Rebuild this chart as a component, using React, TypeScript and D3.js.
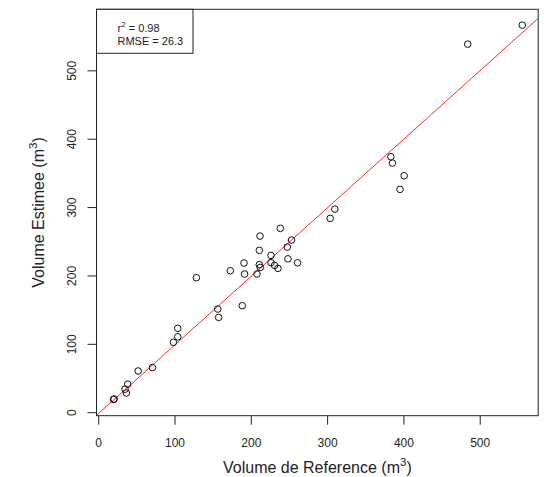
import React from "react";
import * as d3 from "d3";

const refVolume = [19.5, 20.2, 34.5, 38.1, 36.2, 51.7, 70.4, 97.9, 103.6, 103.6, 128.0, 156.0, 157.2, 172.5, 188.2, 190.4, 191.2, 207.4, 210.5, 211.4, 210.5, 211.8, 225.8, 225.8, 230.5, 234.9, 238.0, 247.1, 252.7, 248.0, 260.6, 303.4, 309.5, 382.9, 385.0, 400.3, 394.9, 483.6, 555.1];
const estVolume = [19.3, 20.0, 34.4, 41.8, 28.8, 61.0, 66.0, 102.9, 111.0, 123.4, 197.4, 151.6, 139.4, 207.6, 156.5, 218.9, 202.8, 202.8, 237.4, 258.3, 216.5, 212.5, 230.0, 219.5, 215.5, 211.0, 269.6, 242.2, 252.5, 225.0, 219.2, 284.2, 297.8, 374.3, 365.0, 346.5, 326.6, 539.0, 566.8];
const xTicks = [0, 100, 200, 300, 400, 500];
const yTicks = [0, 100, 200, 300, 400, 500];
const xDomain = [-2.9, 576];
const yDomain = [-4.4, 590];
const fitIntercept = -1;
const fitSlope = 1.003;
const r2Label = "0.98";
const rmseLabel = "26.3";

const W = 544;
const H = 477;
const L = 96.5, R = 538.2, T = 9.3, B = 415.7;
const FONT = "'Liberation Sans', Arial, Helvetica, sans-serif";
const INK = "#222";

export default function App() {
  const x = d3.scaleLinear().domain(xDomain).range([L, R]);
  const y = d3.scaleLinear().domain(yDomain).range([B, T]);
  const lineGen = d3.line<number>().x((v) => x(v)).y((v) => y(fitIntercept + fitSlope * v));
  const lineXs = [xDomain[0], xDomain[1]];
  const points = refVolume.map((v, i) => [v, estVolume[i]]);

  return (
    <svg width={W} height={H} style={{ position: "absolute", left: 0, top: 0, background: "#fff" }} fontFamily={FONT}>
      <rect x={0} y={0} width={W} height={H} fill="#fff" />
      <defs>
        <clipPath id="plotClip">
          <rect x={L} y={T} width={R - L} height={B - T} />
        </clipPath>
      </defs>
      <path d={lineGen(lineXs) || ""} stroke="#ff0000" strokeWidth={1} fill="none" clipPath="url(#plotClip)" opacity={0.85} />
      {points.map(([a, b], i) => (
        <circle key={i} cx={x(a)} cy={y(b)} r={3.3} fill="none" stroke="#111" strokeWidth={1} />
      ))}
      <rect x={L} y={T} width={R - L} height={B - T} fill="none" stroke={INK} strokeWidth={1} />
      {/* x axis */}
      {xTicks.map((t) => (
        <g key={"x" + t}>
          <line x1={x(t)} x2={x(t)} y1={B} y2={B + 9} stroke={INK} strokeWidth={1} />
          <text x={x(t)} y={446.5} textAnchor="middle" fontSize={12} fill={INK}>{t}</text>
        </g>
      ))}
      {/* y axis */}
      {yTicks.map((t) => (
        <g key={"y" + t}>
          <line x1={L - 9} x2={L} y1={y(t)} y2={y(t)} stroke={INK} strokeWidth={1} />
          <text transform={`translate(75.5,${y(t)}) rotate(-90)`} textAnchor="middle" fontSize={12} fill={INK}>{t}</text>
        </g>
      ))}
      {/* axis titles */}
      <text x={(L + R) / 2} y={473.3} textAnchor="middle" fontSize={16} fill={INK}>
        Volume de Reference (m<tspan fontSize={11.5} dy={-7}>3</tspan><tspan dy={7}>)</tspan>
      </text>
      <text transform={`translate(43.5,${(T + B) / 2}) rotate(-90)`} textAnchor="middle" fontSize={16} fill={INK}>
        Volume Estimee (m<tspan fontSize={11.5} dy={-7}>3</tspan><tspan dy={7}>)</tspan>
      </text>
      {/* legend */}
      <rect x={L} y={T} width={193 - L} height={53.3 - T} fill="#fff" stroke={INK} strokeWidth={1} />
      <text x={117.5} y={31.7} fontSize={11} fill={INK}>
        r<tspan fontSize={8} dy={-5}>2</tspan><tspan dy={5}> = {r2Label}</tspan>
      </text>
      <text x={117.5} y={45} fontSize={11} fill={INK}>RMSE = {rmseLabel}</text>
    </svg>
  );
}
